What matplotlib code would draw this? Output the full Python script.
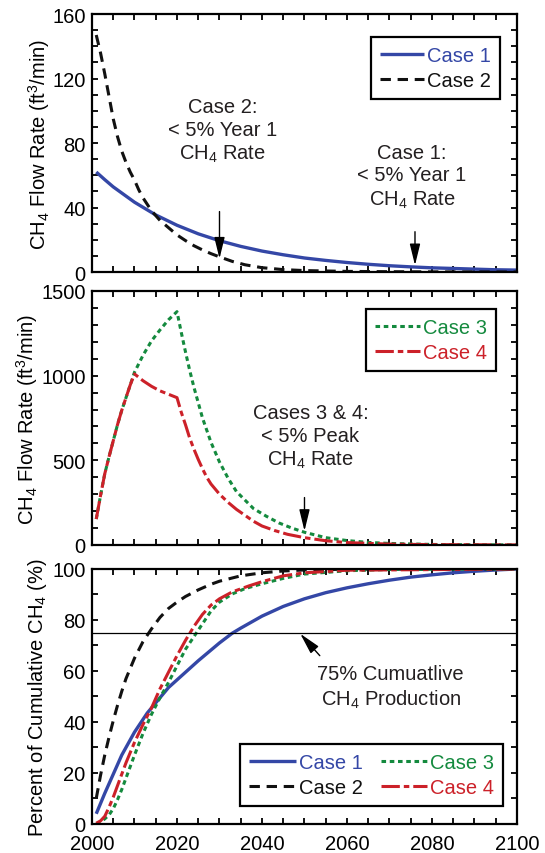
import matplotlib
matplotlib.use("Agg")
import matplotlib.pyplot as plt
from matplotlib.ticker import MultipleLocator

plt.rcParams["font.family"] = "Liberation Sans"
plt.rcParams["mathtext.fontset"] = "custom"
plt.rcParams["mathtext.rm"] = "Liberation Sans"
plt.rcParams["mathtext.it"] = "Liberation Sans:italic"
plt.rcParams["font.size"] = 14.5
plt.rcParams["text.color"] = "#231f20"

BLUE = "#3447a6"
GREEN = "#148a3e"
RED = "#cc2129"
BLACK = "#111111"

# Case 1: flow rate (ft3/min)
years_c1 = [2001, 2003, 2005, 2010, 2015, 2020, 2025, 2030, 2035, 2040, 2045,
            2050, 2055, 2060, 2065, 2070, 2075, 2080, 2085, 2090, 2095, 2100]
flow_c1 = [62.0, 57.3, 52.8, 43.3, 35.4, 29.0, 23.7, 19.4, 15.9, 13.0, 10.7,
           8.7, 7.2, 5.9, 4.8, 3.9, 3.2, 2.6, 2.2, 1.8, 1.4, 1.2]

# Case 2: flow rate
years_c2 = [2001, 2002, 2003, 2004, 2005, 2006, 2007, 2008, 2009, 2010, 2011,
            2012, 2014, 2016, 2018, 2020, 2022, 2024, 2026, 2028, 2030, 2033,
            2036, 2040, 2045, 2050, 2060, 2070, 2080, 2100]
flow_c2 = [147, 136, 123, 109, 95, 84, 75, 68, 62, 57, 51,
           46, 38, 32, 27.5, 23, 19.5, 16.3, 13.7, 11.4, 9.4, 6.6,
           4.5, 2.7, 1.5, 0.9, 0.4, 0.2, 0.1, 0.0]

# Case 3: flow rate
years_c3 = [2001, 2002, 2003, 2004, 2005, 2006, 2007, 2008, 2009, 2010, 2012,
            2014, 2016, 2018, 2020, 2021, 2022, 2023, 2024, 2026, 2028, 2030,
            2032, 2034, 2036, 2038, 2041, 2044, 2047, 2050, 2055, 2060, 2065,
            2070, 2080, 2090, 2100]
flow_c3 = [153, 290, 420, 520, 615, 710, 795, 870, 945, 1020, 1120,
           1205, 1270, 1330, 1378, 1256, 1140, 1030, 930, 750, 606, 490,
           395, 315, 265, 215, 170, 130, 100, 75, 43, 26, 15,
           9, 3, 1, 0.5]

# Case 4: flow rate
years_c4 = [2001, 2002, 2003, 2004, 2005, 2006, 2007, 2008, 2009, 2010, 2012,
            2014, 2016, 2018, 2020, 2021, 2022, 2023, 2024, 2025, 2026, 2027,
            2028, 2030, 2032, 2034, 2036, 2038, 2040, 2043, 2046, 2050, 2055,
            2060, 2070, 2080, 2100]
flow_c4 = [153, 290, 420, 520, 615, 710, 795, 870, 945, 1010, 970,
           937, 910, 890, 870, 784, 710, 630, 565, 505, 450, 400,
           360, 300, 252, 210, 175, 140, 112, 85, 63, 43, 25,
           14, 5, 2, 0.3]

# cumulative production (% of total)
years_cum1 = [2001, 2003, 2005, 2007, 2010, 2013, 2015, 2018, 2020, 2025, 2030,
              2033, 2035, 2040, 2045, 2050, 2055, 2060, 2065, 2070, 2075, 2080,
              2085, 2090, 2095, 2100]
cum_c1 = [4, 12, 19.5, 27, 36, 43.5, 47.5, 53.5, 56.5, 64, 71,
          74.8, 76.8, 81.5, 85.3, 88.3, 90.7, 92.6, 94.2, 95.6, 96.8, 97.7,
          98.5, 99.1, 99.6, 100]

years_cum2 = [2001, 2002, 2003, 2004, 2005, 2006, 2007, 2008, 2009, 2010, 2012,
              2014, 2016, 2018, 2020, 2022, 2025, 2028, 2030, 2035, 2040, 2045,
              2050, 2060, 2100]
cum_c2 = [10, 19, 27, 34, 40.5, 46.5, 52, 57, 61, 65, 71.5,
          76.5, 81, 84.5, 87, 89.2, 91.8, 94, 95.2, 97.3, 98.5, 99.2,
          99.6, 99.9, 100]

years_cum3 = [2001, 2002, 2003, 2004, 2005, 2006, 2007, 2008, 2009, 2010, 2012,
              2014, 2016, 2018, 2020, 2022, 2024, 2026, 2028, 2030, 2033, 2036,
              2040, 2045, 2050, 2060, 2070, 2100]
cum_c3 = [0, 0.8, 2, 3.5, 6, 9.5, 13.5, 18, 22.5, 27, 35.5,
          43, 49.5, 55.5, 62, 68.5, 73.5, 78.5, 83.5, 87, 90.2, 92.3,
          94.2, 96.3, 98, 99.3, 99.8, 100]

years_cum4 = [2001, 2002, 2003, 2004, 2005, 2006, 2007, 2008, 2009, 2010, 2012,
              2014, 2016, 2018, 2020, 2022, 2024, 2026, 2028, 2030, 2033, 2037,
              2040, 2045, 2050, 2060, 2100]
cum_c4 = [0.3, 1.2, 3, 6.5, 10.5, 15, 19.5, 24, 28, 32, 39,
          45.5, 53, 59.5, 66, 72, 77.5, 82.2, 85.8, 88.3, 91, 93.4,
          95, 97.3, 98.5, 99.5, 100]

# line styles per case
style_c1 = dict(color=BLUE, lw=2.4, solid_capstyle="butt")
style_c2 = dict(color=BLACK, lw=2.2, dashes=(3.4, 2.2))
style_c3 = dict(color=GREEN, lw=2.2, dashes=(1.5, 1.2))
style_c4 = dict(color=RED, lw=2.2, dashes=(6.0, 1.3, 1.8, 1.3))

arrow = dict(arrowstyle="-|>,head_width=0.22,head_length=0.9", lw=1.0,
             color="black", shrinkA=0, shrinkB=0)
legend_kw = dict(borderaxespad=0, fancybox=False, framealpha=1,
                 edgecolor="black", labelcolor="linecolor",
                 handletextpad=0.15, labelspacing=0.3, borderpad=0.45)

fig = plt.figure(figsize=(5.45, 8.54), dpi=100)
left, width = 0.1688, 0.7798
ax1 = fig.add_axes([left, 0.6803, width, 0.3021])
ax2 = fig.add_axes([left, 0.3607, width, 0.2974])
ax3 = fig.add_axes([left, 0.0340, width, 0.2986])


def style_axis(ax, ymax, ymajor, yminor, label_x):
    ax.set_xlim(2000, 2100)
    ax.set_ylim(0, ymax)
    ax.xaxis.set_major_locator(MultipleLocator(20))
    ax.xaxis.set_minor_locator(MultipleLocator(5))
    ax.yaxis.set_major_locator(MultipleLocator(ymajor))
    ax.yaxis.set_minor_locator(MultipleLocator(yminor))
    ax.tick_params(which="both", direction="in", top=True, right=True,
                   length=4, width=1.3, labelsize=14.5)
    ax.tick_params(axis="x", which="major", pad=7.5)
    ax.tick_params(axis="y", which="major", pad=4.5)
    for sp in ax.spines.values():
        sp.set_linewidth(1.6)
    ax.yaxis.set_label_coords(label_x, 0.5)


# --- flow rates, cases 1 and 2
ax1.plot(years_c1, flow_c1, label="Case 1", **style_c1)
ax1.plot(years_c2, flow_c2, label="Case 2", **style_c2)
style_axis(ax1, 160, 40, 10, -0.095)
ax1.tick_params(labelbottom=False)
ax1.set_ylabel("CH$_4$ Flow Rate (ft$^3$/min)")
ax1.text(2030.8, 87.5, "Case 2:\n< 5% Year 1\nCH$_4$ Rate", ha="center",
         va="center", linespacing=1.25)
ax1.text(2075.3, 59.4, "Case 1:\n< 5% Year 1\nCH$_4$ Rate", ha="center",
         va="center", linespacing=1.25)
ax1.annotate("", xy=(2030, 8.3), xytext=(2030, 37.5), arrowprops=arrow)
ax1.annotate("", xy=(2076, 4.2), xytext=(2076, 25), arrowprops=arrow)
leg1 = ax1.legend(loc="upper right", bbox_to_anchor=(0.96, 0.91),
                  handlelength=2.2, **legend_kw)
leg1.get_frame().set_linewidth(1.6)

# --- flow rates, cases 3 and 4
ax2.plot(years_c3, flow_c3, label="Case 3", **style_c3)
ax2.plot(years_c4, flow_c4, label="Case 4", **style_c4)
style_axis(ax2, 1500, 500, 100, -0.122)
ax2.tick_params(labelbottom=False)
ax2.set_ylabel("CH$_4$ Flow Rate (ft$^3$/min)")
ax2.text(2051.4, 640, "Cases 3 & 4:\n< 5% Peak\nCH$_4$ Rate", ha="center",
         va="center", linespacing=1.25)
ax2.annotate("", xy=(2050, 83), xytext=(2050, 280), arrowprops=arrow)
leg2 = ax2.legend(loc="upper right", bbox_to_anchor=(0.95, 0.93),
                  handlelength=2.2, **legend_kw)
leg2.get_frame().set_linewidth(1.6)

# --- cumulative production
ax3.plot(years_cum1, cum_c1, label="Case 1", **style_c1)
ax3.plot(years_cum2, cum_c2, label="Case 2", **style_c2)
ax3.plot(years_cum3, cum_c3, label="Case 3", **style_c3)
ax3.plot(years_cum4, cum_c4, label="Case 4", **style_c4)
ax3.axhline(75, color="black", lw=0.9)
style_axis(ax3, 100, 20, 10, -0.101)
ax3.set_ylabel("Percent of Cumulative CH$_4$ (%)")
ax3.text(2070.3, 53.7, "75% Cumuatlive\nCH$_4$ Production", ha="center",
         va="center", linespacing=1.25)
ax3.annotate("", xy=(2049, 74.6), xytext=(2053.6, 66), arrowprops=arrow)
leg3 = ax3.legend(loc="lower right", bbox_to_anchor=(0.967, 0.07), ncol=2,
                  handlelength=2.3, columnspacing=0.9, **legend_kw)
leg3.get_frame().set_linewidth(1.6)

fig.savefig("out.png", dpi=100)
